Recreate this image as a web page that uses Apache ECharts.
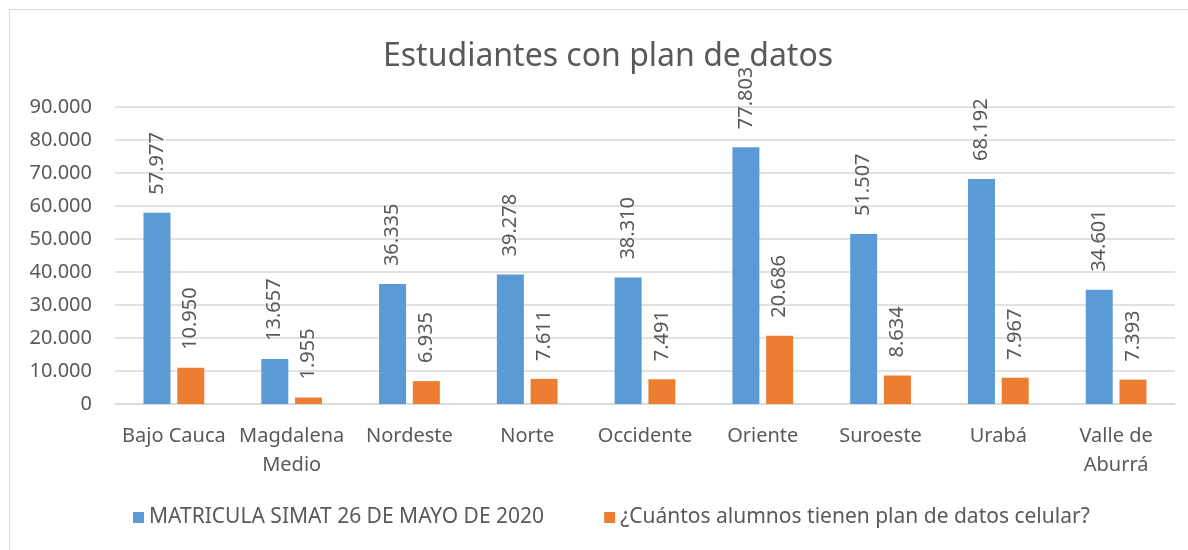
<!DOCTYPE html>
<html>
<head>
<meta charset="UTF-8">
<title>Estudiantes con plan de datos</title>
<script src="https://cdn.jsdelivr.net/npm/echarts@6.0.0/dist/echarts.min.js"></script>
<style>
  html, body { margin: 0; padding: 0; background: #fff; }
  #main { width: 1188px; height: 550px; }
</style>
</head>
<body>
<div id="main"></div>
<script>
// datos
var regiones = ['Bajo Cauca', 'Magdalena\nMedio', 'Nordeste', 'Norte', 'Occidente', 'Oriente', 'Suroeste', 'Urabá', 'Valle de\nAburrá'];
var matricula = [57977, 13657, 36335, 39278, 38310, 77803, 51507, 68192, 34601];
var planDatos = [10950, 1955, 6935, 7611, 7491, 20686, 8634, 7967, 7393];
var nombreMatricula = 'MATRICULA SIMAT 26 DE MAYO DE 2020';
var nombrePlan = '¿Cuántos alumnos tienen plan de datos celular?';

var fuente = 'Noto Sans';
var gris = '#595959';

// separador de miles con punto
function miles(v) {
  return String(v).replace(/\B(?=(\d{3})+(?!\d))/g, '.');
}

var myChart = echarts.init(document.getElementById('main'));

var etiqueta = {
  show: true,
  position: 'top',
  rotate: 90,
  align: 'left',
  verticalAlign: 'middle',
  distance: 18,
  color: gris,
  fontFamily: fuente,
  fontSize: 20,
  formatter: function (p) { return miles(p.value); }
};

var option = {
  animation: false,
  backgroundColor: '#fff',
  textStyle: { fontFamily: fuente },
  graphic: [{
    type: 'rect',
    shape: { x: 9.5, y: 9.5, width: 1250, height: 600 },
    style: { fill: 'none', stroke: '#d9d9d9', lineWidth: 1 },
    silent: true
  }],
  title: {
    text: 'Estudiantes con plan de datos',
    left: 378,
    top: 36,
    textStyle: { color: gris, fontFamily: fuente, fontSize: 32, fontWeight: 'normal' }
  },
  legend: {
    bottom: 17,
    left: 128,
    itemWidth: 11,
    itemHeight: 11,
    itemGap: 60,
    icon: 'rect',
    textStyle: { color: gris, fontFamily: fuente, fontSize: 21 },
    data: [nombreMatricula, nombrePlan]
  },
  grid: { left: 115, right: 13, top: 107, bottom: 146, containLabel: false },
  xAxis: {
    type: 'category',
    data: regiones,
    axisLine: { lineStyle: { color: '#d9d9d9', width: 1.5 } },
    axisTick: { show: false },
    axisLabel: { color: gris, fontFamily: fuente, fontSize: 20, margin: 18, lineHeight: 29, interval: 0 }
  },
  yAxis: {
    type: 'value',
    min: 0,
    max: 90000,
    interval: 10000,
    axisLine: { show: false },
    axisTick: { show: false },
    axisLabel: { color: gris, fontFamily: fuente, fontSize: 20, margin: 23, formatter: miles },
    splitLine: { lineStyle: { color: '#d9d9d9', width: 1.5 } }
  },
  series: [
    {
      name: nombreMatricula,
      type: 'bar',
      data: matricula,
      barWidth: 27,
      barGap: '25%',
      itemStyle: { color: '#5b9bd5' },
      label: etiqueta
    },
    {
      name: nombrePlan,
      type: 'bar',
      data: planDatos,
      barWidth: 27,
      barGap: '25%',
      itemStyle: { color: '#ed7d31' },
      label: etiqueta
    }
  ]
};

myChart.setOption(option);
</script>
</body>
</html>
